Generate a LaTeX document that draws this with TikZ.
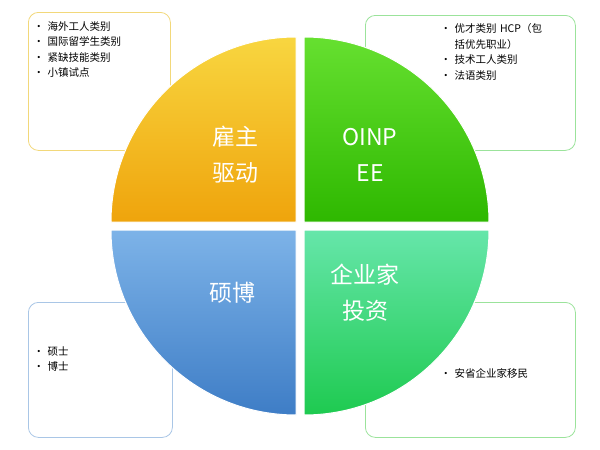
\documentclass[tikz,border=0pt]{standalone}
\usepackage{fontspec}
\setmainfont{Noto Sans CJK SC}
\begin{document}
\begin{tikzpicture}[x=1pt,y=-1pt,
 box/.style={draw,line width=0.8pt,rounded corners=10pt,fill=white},
 lst/.style={anchor=north west,font=\fontsize{10.5}{15.5}\selectfont,align=left,text width=#1},
 big/.style={text=white,font=\fontsize{23}{36}\selectfont,align=center}]
\useasboundingbox (0,0) rectangle (600,450);
\definecolor{yb}{HTML}{F2D87A}\definecolor{gb}{HTML}{9BE39B}\definecolor{bb}{HTML}{A9C6E6}
\definecolor{y1}{HTML}{F8D640}\definecolor{y2}{HTML}{EFA40C}
\definecolor{g1}{HTML}{66E030}\definecolor{g2}{HTML}{2EB800}
\definecolor{c1}{HTML}{7DB3E8}\definecolor{c2}{HTML}{3E7DC6}
\definecolor{t1}{HTML}{66E6AA}\definecolor{t2}{HTML}{1ECA50}
\node[box,draw=yb,minimum width=142,minimum height=138,anchor=north west] (b1) at (28,12) {};
\node[box,draw=gb,minimum width=210,minimum height=135,anchor=north west] (b2) at (365,15) {};
\node[box,draw=bb,minimum width=144,minimum height=135,anchor=north west] (b3) at (28,302) {};
\node[box,draw=gb,minimum width=210,minimum height=135,anchor=north west] (b4) at (365,302) {};
\node[lst=135pt] (tx1) at (30,18) {• 海外工人类别\\• 国际留学生类别\\• 紧缺技能类别\\• 小镇试点};
\node[lst=135pt] (tx2) at (437,20) {• 优才类别 HCP（包\\\phantom{• }括优先职业）\\• 技术工人类别\\• 法语类别};
\node[lst=130pt] (tx3) at (30,343) {• 硕士\\• 博士};
\node[lst=130pt] (tx4) at (437,365) {• 安省企业家移民};
\shade[top color=y1, bottom color=y2,draw=white,line width=1pt]
 (296,222) -- ++(-185,0) arc[start angle=180,end angle=270,radius=185] -- cycle;
\shade[top color=g1, bottom color=g2,draw=white,line width=1pt]
 (304,222) -- ++(0,-185) arc[start angle=270,end angle=360,radius=185] -- cycle;
\shade[top color=c1, bottom color=c2,draw=white,line width=1pt]
 (296,230) -- ++(-185,0) arc[start angle=180,end angle=90,radius=185] -- cycle;
\shade[top color=t1, bottom color=t2,draw=white,line width=1pt]
 (304,230) -- ++(185,0) arc[start angle=0,end angle=90,radius=185] -- cycle;
\node[big] (q1) at (235,155) {雇主\\驱动};
\node[big] (q2) at (370,155) {OINP\\EE};
\node[big] (q3) at (232,293) {硕博};
\node[big] (q4) at (365,293) {企业家\\投资};
\end{tikzpicture}
\end{document}
